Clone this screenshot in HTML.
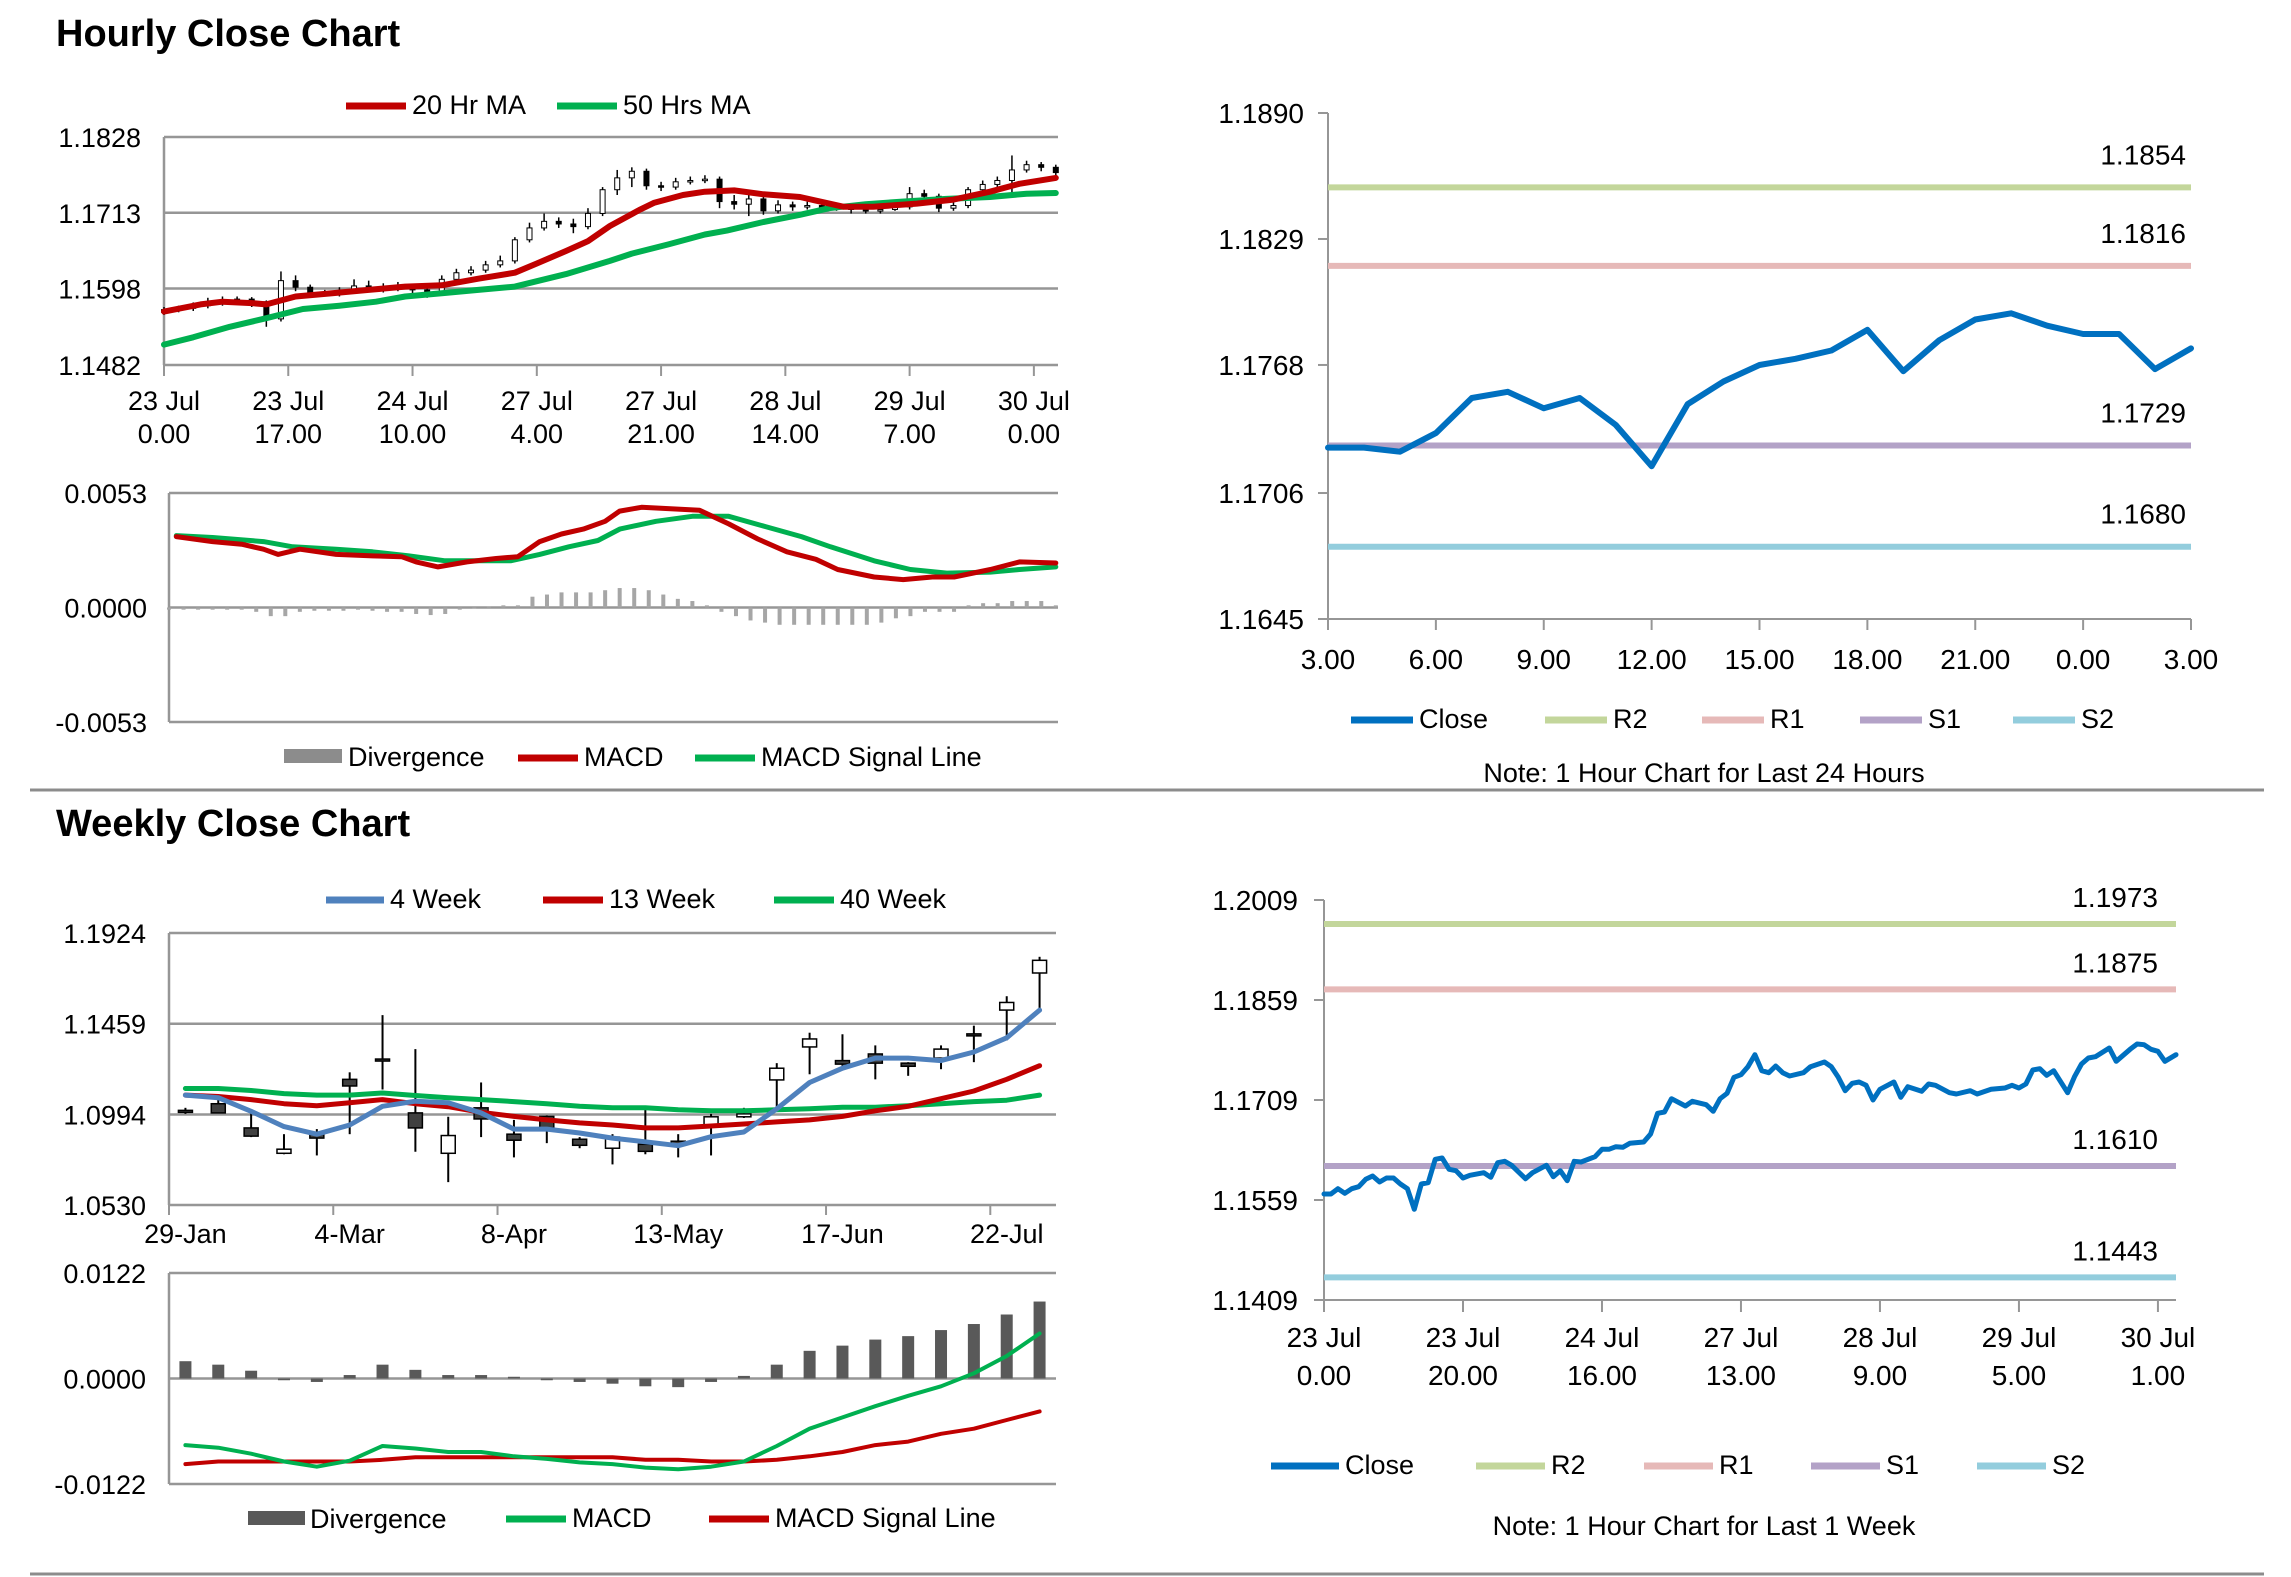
<!DOCTYPE html>
<html><head><meta charset="utf-8"><style>
html,body{margin:0;padding:0;background:#fff;}
svg{display:block;font-family:"Liberation Sans",Arial,sans-serif;}
</style></head><body>
<svg id="chart" width="2291" height="1577" viewBox="0 0 2291 1577" xmlns="http://www.w3.org/2000/svg">
<text x="56" y="46" font-size="38" font-weight="bold" fill="#000">Hourly Close Chart</text>
<text x="56" y="836" font-size="38" font-weight="bold" fill="#000">Weekly Close Chart</text>
<line x1="30" y1="790" x2="2264" y2="790" stroke="#8c8c8c" stroke-width="3"/>
<line x1="30" y1="1574" x2="2264" y2="1574" stroke="#8c8c8c" stroke-width="3"/>
</svg>
<script>
// ---- Hourly candles (2-hour sampling) ----
const hHours = [0,2,4,6,8,10,12,14,16,18,20,22,24,26,28,30,32,34,36,38,40,42,44,46,48,50,52,54,56,58,60,62,64,66,68,70,72,74,76,78,80,82,84,86,88,90,92,94,96,98,100,102,104,106,108,110,112,114,116,118,120,122];
const hOpen = [1.1562,1.1566,1.1568,1.1572,1.1576,1.1580,1.1582,1.1578,1.1552,1.1610,1.1600,1.1592,1.1590,1.1594,1.1602,1.1600,1.1598,1.1600,1.1596,1.1592,1.1612,1.1622,1.1626,1.1634,1.1640,1.1672,1.1690,1.1700,1.1696,1.1692,1.1712,1.1748,1.1766,1.1776,1.1754,1.1752,1.1760,1.1762,1.1764,1.1730,1.1726,1.1734,1.1716,1.1725,1.1722,1.1724,1.1720,1.1722,1.1718,1.1716,1.1718,1.1722,1.1742,1.1738,1.1720,1.1724,1.1748,1.1756,1.1762,1.1778,1.1786,1.1782];
const hClose = [1.1566,1.1568,1.1572,1.1576,1.1580,1.1582,1.1578,1.1552,1.1610,1.1600,1.1592,1.1590,1.1594,1.1602,1.1600,1.1598,1.1600,1.1596,1.1592,1.1612,1.1622,1.1626,1.1634,1.1640,1.1672,1.1690,1.1700,1.1696,1.1692,1.1712,1.1748,1.1766,1.1776,1.1754,1.1752,1.1760,1.1762,1.1764,1.1730,1.1726,1.1734,1.1716,1.1725,1.1722,1.1724,1.1720,1.1722,1.1718,1.1716,1.1718,1.1722,1.1742,1.1738,1.1720,1.1724,1.1748,1.1756,1.1762,1.1778,1.1786,1.1782,1.1774];
const hHigh = [1.1570,1.1572,1.1577,1.1584,1.1586,1.1586,1.1585,1.1580,1.1624,1.1618,1.1604,1.1596,1.1600,1.1612,1.1610,1.1606,1.1608,1.1604,1.1600,1.1618,1.1628,1.1632,1.1640,1.1648,1.1676,1.1698,1.1712,1.1706,1.1704,1.1720,1.1752,1.1778,1.1782,1.1780,1.1760,1.1766,1.1768,1.1770,1.1768,1.1740,1.1742,1.1738,1.1732,1.1730,1.1730,1.1728,1.1728,1.1726,1.1722,1.1724,1.1728,1.1752,1.1748,1.1742,1.1730,1.1752,1.1762,1.1768,1.1800,1.1792,1.1790,1.1786];
const hLow = [1.1558,1.1562,1.1564,1.1568,1.1572,1.1576,1.1570,1.1540,1.1548,1.1594,1.1586,1.1586,1.1586,1.1590,1.1596,1.1592,1.1594,1.1586,1.1584,1.1590,1.1608,1.1618,1.1622,1.1630,1.1636,1.1668,1.1686,1.1690,1.1682,1.1688,1.1708,1.1740,1.1752,1.1748,1.1746,1.1748,1.1756,1.1758,1.1720,1.1718,1.1708,1.1710,1.1712,1.1716,1.1718,1.1714,1.1716,1.1712,1.1712,1.1712,1.1716,1.1718,1.1730,1.1714,1.1716,1.1720,1.1744,1.1750,1.1740,1.1774,1.1776,1.1768];
const ma20Hours = [0,5,8,12,14,18,23,28,33,38,43,48,51,55,58,61,65,67,71,74,78,82,87,89,93,97,103,108,113,117,122];
const ma20Vals = [1.1563,1.1574,1.1578,1.1576,1.1574,1.1586,1.1591,1.1596,1.1601,1.1603,1.1613,1.1622,1.1636,1.1655,1.1670,1.1693,1.1717,1.1728,1.1740,1.1745,1.1747,1.1741,1.1737,1.1732,1.1722,1.1722,1.1727,1.1733,1.1745,1.1757,1.1766];
const ma50Hours = [0,4,9,14,19,24,29,33,38,43,48,55,61,64,69,74,77,82,87,91,96,101,107,113,118,122];
const ma50Vals = [1.1513,1.1524,1.1540,1.1553,1.1567,1.1572,1.1578,1.1586,1.1591,1.1596,1.1601,1.1620,1.1640,1.1651,1.1665,1.1680,1.1686,1.1699,1.1710,1.1720,1.1726,1.1730,1.1734,1.1737,1.1742,1.1743];
const hTickHours = [0,17,34,51,68,85,102,119];
const hTickDays = ["23 Jul","23 Jul","24 Jul","27 Jul","27 Jul","28 Jul","29 Jul","30 Jul"];
const hTickTimes = ["0.00","17.00","10.00","4.00","21.00","14.00","7.00","0.00"];
const hPriceTicks = [1.1482,1.1598,1.1713,1.1828];
// hourly MACD
const hMacdHours = [1,6,10,13,15,18,23,28,32,34,37,41,45,48,51,54,57,60,62,65,69,73,77,81,85,89,92,97,101,105,108,113,117,122];
const hMacdVals = [0.00328,0.00305,0.00293,0.00270,0.00246,0.00270,0.00246,0.00239,0.00235,0.00211,0.00188,0.00211,0.00227,0.00235,0.00305,0.00340,0.00363,0.00399,0.00446,0.00464,0.00457,0.00450,0.00387,0.00317,0.00258,0.00223,0.00176,0.00141,0.00129,0.00141,0.00141,0.00176,0.00211,0.00206];
const hSigHours = [1,6,13,17,23,28,33,38,47,51,55,59,62,67,72,77,82,87,91,97,102,107,113,117,122];
const hSigVals = [0.00333,0.00324,0.00305,0.00281,0.00270,0.00258,0.00239,0.00216,0.00216,0.00246,0.00281,0.00310,0.00363,0.00399,0.00422,0.00422,0.00375,0.00328,0.00281,0.00216,0.00176,0.00159,0.00164,0.00176,0.00188];
const hDivVals = [-0.0001,-0.0001,-0.0001,-0.0001,-0.0001,-0.0001,-0.0002,-0.0004,-0.0004,-0.0002,-0.00015,-0.00015,-0.00015,-0.0001,-0.00015,-0.0002,-0.0002,-0.0003,-0.00035,-0.0003,-0.0001,0.0000,0.00005,0.0001,0.0001,0.0005,0.0006,0.0007,0.0007,0.0007,0.0008,0.0009,0.0009,0.0008,0.0006,0.0004,0.0003,0.0001,-0.0002,-0.0004,-0.0006,-0.0007,-0.0008,-0.0008,-0.0008,-0.0008,-0.0008,-0.0008,-0.0008,-0.0007,-0.0005,-0.0004,-0.0002,-0.0002,-0.0002,0.0001,0.0002,0.0002,0.0003,0.0003,0.0003,0.0001];
const hMacdTicks = [-0.0053,0.0000,0.0053];
// 24h chart
const dHours = [0,1,2,3,4,5,6,7,8,9,10,11,12,13,14,15,16,17,18,19,20,21,22,23,24];
const dClose = [1.1728,1.1728,1.1726,1.1735,1.1752,1.1755,1.1747,1.1752,1.1739,1.1719,1.1749,1.1760,1.1768,1.1771,1.1775,1.1785,1.1765,1.1780,1.1790,1.1793,1.1787,1.1783,1.1783,1.1766,1.1776];
const dTickLabels = ["3.00","6.00","9.00","12.00","15.00","18.00","21.00","0.00","3.00"];
const dPriceTicks = [1.1645,1.1706,1.1768,1.1829,1.1890];
const dLevelNames = ["R2","R1","S1","S2"];
const dLevels = [1.1854,1.1816,1.1729,1.1680];
// weekly candles
const wLabels = ["29-Jan","4-Mar","8-Apr","13-May","17-Jun","22-Jul"];
const wOpen = [1.1015,1.1049,1.0925,1.0795,1.0899,1.1174,1.1278,1.1002,1.0795,1.1028,1.0893,1.0984,1.0867,1.0821,1.0841,1.0857,1.0940,1.0982,1.1171,1.1340,1.1270,1.1304,1.1257,1.1283,1.1407,1.1529,1.1719];
const wClose = [1.1012,1.1002,1.0883,1.0816,1.0873,1.1140,1.1275,1.0925,1.0886,1.0971,1.0862,1.0925,1.0836,1.0878,1.0805,1.0841,1.0982,1.0997,1.1231,1.1381,1.1252,1.1257,1.1241,1.1329,1.1397,1.1568,1.1784];
const wHigh = [1.1028,1.1096,1.1015,1.0893,1.0919,1.1210,1.1503,1.1329,1.0982,1.1158,1.0966,1.0989,1.0878,1.0893,1.1018,1.0893,1.0997,1.1028,1.1257,1.1413,1.1405,1.1348,1.1262,1.1348,1.1449,1.1600,1.1802];
const wLow = [1.0997,1.1002,1.0878,1.0790,1.0784,1.0893,1.1122,1.0803,1.0647,1.0878,1.0774,1.0847,1.0821,1.0738,1.0790,1.0774,1.0784,1.0976,1.1010,1.1200,1.1226,1.1174,1.1192,1.1226,1.1262,1.1374,1.1529];
const w4 = [1.1093,1.1080,1.1010,1.0932,1.0893,1.0940,1.1036,1.1062,1.1054,1.1002,1.0919,1.0919,1.0899,1.0873,1.0854,1.0834,1.0880,1.0904,1.1023,1.1158,1.1231,1.1283,1.1283,1.1270,1.1314,1.1387,1.1529];
const w13 = [1.1093,1.1086,1.1070,1.1049,1.1039,1.1054,1.1070,1.1049,1.1034,1.1005,1.0984,1.0966,1.0951,1.0940,1.0925,1.0925,1.0935,1.0945,1.0956,1.0966,1.0984,1.1013,1.1036,1.1075,1.1114,1.1174,1.1244];
const w40 = [1.1127,1.1127,1.1117,1.1101,1.1093,1.1093,1.1104,1.1091,1.1080,1.1070,1.1060,1.1049,1.1036,1.1028,1.1028,1.1018,1.1013,1.1013,1.1018,1.1023,1.1031,1.1031,1.1039,1.1049,1.1060,1.1067,1.1093];
const wPriceTicks = [1.0530,1.0994,1.1459,1.1924];
const wDiv = [0.0020,0.0016,0.0009,-0.0002,-0.0004,0.0004,0.0016,0.0010,0.0004,0.0004,0.0002,-0.0002,-0.0004,-0.0006,-0.0009,-0.0010,-0.0004,0.0003,0.0016,0.0032,0.0038,0.0045,0.0049,0.0056,0.0063,0.0074,0.0089];
const wMacd = [-0.0077,-0.0080,-0.0087,-0.0096,-0.0102,-0.0095,-0.0078,-0.0081,-0.0085,-0.0085,-0.0090,-0.0093,-0.0097,-0.0099,-0.0103,-0.0105,-0.0102,-0.0096,-0.0078,-0.0058,-0.0045,-0.0032,-0.0020,-0.0009,0.0006,0.0026,0.0052];
const wSignal = [-0.0099,-0.0096,-0.0096,-0.0096,-0.0096,-0.0096,-0.0094,-0.0091,-0.0091,-0.0091,-0.0091,-0.0091,-0.0091,-0.0091,-0.0094,-0.0094,-0.0096,-0.0096,-0.0094,-0.0090,-0.0085,-0.0077,-0.0073,-0.0064,-0.0058,-0.0048,-0.0038];
const wMacdTicks = [-0.0122,0.0000,0.0122];
// 1-week hourly chart
const kHours = [0,1,2,3,4,5,6,7,8,9,10,11,12,13,14,15,16,17,18,19,20,21,23,24,25,26,27,29,30,32,33,34,35,36,37,39,40,41,42,43,44,46,47,48,49,50,52,53,55,56,57,58,59,60,61,62,63,64,65,66,67,69,70,72,73,74,75,76,77,78,79,80,82,83,84,86,87,88,90,91,93,94,96,98,99,100,101,102,103,104,105,107,108,109,110,111,113,114,116,117,118,119,120,121,122.6];
const kClose = [1.1568,1.1568,1.1576,1.1569,1.1576,1.1579,1.1590,1.1595,1.1586,1.1592,1.1592,1.1583,1.1576,1.1545,1.1583,1.1585,1.1620,1.1622,1.1605,1.1603,1.1592,1.1596,1.1600,1.1593,1.1615,1.1617,1.1611,1.1591,1.1600,1.1611,1.1594,1.1603,1.1588,1.1617,1.1616,1.1624,1.1635,1.1635,1.1639,1.1638,1.1644,1.1646,1.1658,1.1689,1.1691,1.1711,1.1700,1.1707,1.1702,1.1692,1.1711,1.1719,1.1743,1.1747,1.1759,1.1777,1.1753,1.1750,1.1760,1.1750,1.1745,1.1750,1.1759,1.1766,1.1759,1.1743,1.1723,1.1734,1.1736,1.1731,1.1709,1.1725,1.1736,1.1713,1.1729,1.1722,1.1733,1.1731,1.1720,1.1718,1.1723,1.1718,1.1725,1.1727,1.1731,1.1727,1.1733,1.1754,1.1756,1.1746,1.1753,1.1720,1.1744,1.1763,1.1772,1.1774,1.1787,1.1767,1.1785,1.1793,1.1792,1.1785,1.1782,1.1767,1.1777];
const kTickHours = [0,20,40,60,80,100,120];
const kTickDays = ["23 Jul","23 Jul","24 Jul","27 Jul","28 Jul","29 Jul","30 Jul"];
const kTickTimes = ["0.00","20.00","16.00","13.00","9.00","5.00","1.00"];
const kPriceTicks = [1.1409,1.1559,1.1709,1.1859,1.2009];
const kLevels = [1.1973,1.1875,1.1610,1.1443];

const NS = "http://www.w3.org/2000/svg";
const svg = document.getElementById('chart');
function mk(tag, attrs, name, parent) {
  const el = document.createElementNS(NS, tag);
  for (const k in attrs) el.setAttribute(k, attrs[k]);
  
  
  (parent || svg).appendChild(el);
  return el;
}
function txt(x, y, s, size, anchor, name) {
  const t = mk('text', {x: x, y: y, 'font-size': size, 'text-anchor': anchor || 'start', fill: '#000'}, name);
  t.textContent = s;
  return t;
}
function lin(d0, d1, r0, r1) { return v => r0 + (v - d0) * (r1 - r0) / (d1 - d0); }
function poly(xs, ys, xf, yf, color, w, name) {
  const pts = xs.map((x, i) => xf(x).toFixed(1) + ',' + yf(ys[i]).toFixed(1)).join(' ');
  return mk('polyline', {points: pts, fill: 'none', stroke: color, 'stroke-width': w, 'stroke-linejoin': 'round', 'stroke-linecap': 'round'}, name);
}
function hline(x1, x2, y, color, w, name) { return mk('line', {x1: x1, x2: x2, y1: y, y2: y, stroke: color, 'stroke-width': w}, name); }
function vline(x, y1, y2, color, w, name) { return mk('line', {x1: x, x2: x, y1: y1, y2: y2, stroke: color, 'stroke-width': w}, name); }
function legLine(x1, x2, y, color, label, name) {
  hline(x1, x2, y, color, 7, name + '-swatch');
  txt(x2 + 6, y + 8, label, 27, 'start', name + '-label');
}
const RED = '#C00000', GREEN = '#00B050', GRID = '#969696';

// ===== Panel 1: hourly candles =====
const x1 = lin(0, 122.3, 164, 1058);
const y1 = lin(1.1482, 1.1828, 365, 137);
hPriceTicks.forEach((v, i) => {
  hline(164, 1058, y1(v), GRID, 2.5, 'hourly-gridline');
  txt(141, y1(v) + 10, v.toFixed(4), 27, 'end', 'hourly-y-tick-label');
});
vline(164, 137, 365, GRID, 2.5, 'hourly-y-axis');
hTickHours.forEach((h, i) => {
  vline(x1(h), 365, 376, GRID, 2, 'hourly-x-tick');
  txt(x1(h), 410, hTickDays[i], 27, 'middle', 'hourly-x-tick-day');
  txt(x1(h), 443, hTickTimes[i], 27, 'middle', 'hourly-x-tick-time');
});
hHours.forEach((h, i) => {
  const cx = x1(h);
  vline(cx, y1(hHigh[i]), y1(hLow[i]), '#000', 1.5, 'hourly-candle-wick');
  const top = y1(Math.max(hOpen[i], hClose[i])), bot = y1(Math.min(hOpen[i], hClose[i]));
  mk('rect', {x: cx - 2.5, y: top, width: 5, height: Math.max(1.5, bot - top), fill: hClose[i] >= hOpen[i] ? '#fff' : '#000', stroke: '#000', 'stroke-width': 1}, 'hourly-candle-body');
});
poly(ma50Hours, ma50Vals, x1, y1, GREEN, 6, 'ma-50-line');
poly(ma20Hours, ma20Vals, x1, y1, RED, 6, 'ma-20-line');
legLine(346, 406, 106, RED, '20 Hr MA', 'legend-20hr-ma');
legLine(557, 617, 106, GREEN, '50 Hrs MA', 'legend-50hrs-ma');

// ===== Panel 1b: hourly MACD =====
const x1m = lin(0, 122.3, 169, 1058);
const y1m = lin(-0.0053, 0.0053, 722, 493);
hMacdTicks.forEach(v => {
  hline(169, 1058, y1m(v), GRID, 2.5, 'hourly-macd-gridline');
  txt(147, y1m(v) + 10, v.toFixed(4), 27, 'end', 'hourly-macd-y-tick-label');
});
vline(169, 493, 722, GRID, 2.5, 'hourly-macd-y-axis');
hHours.forEach((h, i) => {
  const a = y1m(0), b = y1m(hDivVals[i]);
  mk('rect', {x: x1m(h) - 2, y: Math.min(a, b), width: 4, height: Math.max(1, Math.abs(b - a)), fill: '#a6a6a6'}, 'hourly-divergence-bar');
});
poly(hSigHours, hSigVals, x1m, y1m, GREEN, 5, 'hourly-macd-signal-line');
poly(hMacdHours, hMacdVals, x1m, y1m, RED, 5, 'hourly-macd-line');
mk('rect', {x: 284, y: 749, width: 58, height: 14, fill: '#8c8c8c'}, 'legend-divergence-swatch');
txt(348, 766, 'Divergence', 27, 'start', 'legend-divergence-label');
legLine(518, 578, 758, RED, 'MACD', 'legend-hourly-macd');
legLine(695, 755, 758, GREEN, 'MACD Signal Line', 'legend-hourly-signal');

// ===== Panel 2: 24h close =====
const x2 = lin(0, 24, 1328, 2191);
const y2 = lin(1.1645, 1.1890, 619, 113);
const levelColors = ['#C3D69B', '#E6B9B8', '#B3A2C7', '#93CDDD'];
vline(1328, 113, 619, GRID, 2, 'intraday-y-axis');
hline(1328, 2191, 619, GRID, 2, 'intraday-x-axis');
dPriceTicks.forEach(v => {
  hline(1318, 1328, y2(v), GRID, 2, 'intraday-y-tick');
  txt(1304, y2(v) + 10, v.toFixed(4), 28, 'end', 'intraday-y-tick-label');
});
dTickLabels.forEach((s, i) => {
  vline(x2(i * 3), 619, 630, GRID, 2, 'intraday-x-tick');
  txt(x2(i * 3), 669, s, 28, 'middle', 'intraday-x-tick-label');
});
dLevels.forEach((v, i) => {
  hline(1328, 2191, y2(v), levelColors[i], 6, 'intraday-level-' + dLevelNames[i].toLowerCase());
});
poly(dHours, dClose, x2, y2, '#0070C0', 6, 'intraday-close-line');
dLevels.forEach((v, i) => {
  txt(2186, y2(v) - 23, v.toFixed(4), 28, 'end', 'intraday-level-label');
});
legLine(1351, 1413, 720, '#0070C0', 'Close', 'legend-intraday-close');
legLine(1545, 1607, 720, levelColors[0], 'R2', 'legend-intraday-r2');
legLine(1702, 1764, 720, levelColors[1], 'R1', 'legend-intraday-r1');
legLine(1860, 1922, 720, levelColors[2], 'S1', 'legend-intraday-s1');
legLine(2013, 2075, 720, levelColors[3], 'S2', 'legend-intraday-s2');
txt(1704, 782, 'Note: 1 Hour Chart for Last 24 Hours', 27, 'middle', 'intraday-note');

// ===== Panel 3: weekly candles =====
const n = wOpen.length;
const bw = (1056 - 169) / n;
const x3 = i => 169 + bw * (i + 0.5);
const y3 = lin(1.0530, 1.1924, 1205, 933);
wPriceTicks.forEach(v => {
  hline(169, 1056, y3(v), GRID, 2.5, 'weekly-gridline');
  txt(146, y3(v) + 10, v.toFixed(4), 27, 'end', 'weekly-y-tick-label');
});
vline(169, 933, 1205, GRID, 2.5, 'weekly-y-axis');
wLabels.forEach((s, k) => {
  vline(169 + bw * k * 5, 1205, 1215, GRID, 2, 'weekly-x-tick');
  txt(x3(k * 5), 1243, s, 27, 'middle', 'weekly-x-tick-label');
});
for (let i = 0; i < n; i++) {
  vline(x3(i), y3(wHigh[i]), y3(wLow[i]), '#000', 2, 'weekly-candle-wick');
  const top = y3(Math.max(wOpen[i], wClose[i])), bot = y3(Math.min(wOpen[i], wClose[i]));
  mk('rect', {x: x3(i) - 7, y: top, width: 14, height: Math.max(2, bot - top), fill: wClose[i] >= wOpen[i] ? '#fff' : '#404040', stroke: '#000', 'stroke-width': 1.5}, 'weekly-candle-body');
}
const idx = wOpen.map((_, i) => i);
poly(idx, w40, x3, y3, GREEN, 5, 'ma-40-week-line');
poly(idx, w13, x3, y3, RED, 5, 'ma-13-week-line');
poly(idx, w4, x3, y3, '#4F81BD', 5, 'ma-4-week-line');
legLine(326, 384, 900, '#4F81BD', '4 Week', 'legend-4-week');
legLine(543, 603, 900, RED, '13 Week', 'legend-13-week');
legLine(774, 834, 900, GREEN, '40 Week', 'legend-40-week');

// ===== Panel 3b: weekly MACD =====
const y3m = lin(-0.0122, 0.0122, 1484, 1273);
wMacdTicks.forEach(v => {
  hline(169, 1056, y3m(v), GRID, 2.5, 'weekly-macd-gridline');
  txt(146, y3m(v) + 10, v.toFixed(4), 27, 'end', 'weekly-macd-y-tick-label');
});
vline(169, 1273, 1484, GRID, 2.5, 'weekly-macd-y-axis');
wDiv.forEach((v, i) => {
  const a = y3m(0), b = y3m(v);
  mk('rect', {x: x3(i) - 6, y: Math.min(a, b), width: 12, height: Math.max(1, Math.abs(b - a)), fill: '#595959'}, 'weekly-divergence-bar');
});
poly(idx, wSignal, x3, y3m, RED, 4, 'weekly-macd-signal-line');
poly(idx, wMacd, x3, y3m, GREEN, 4, 'weekly-macd-line');
mk('rect', {x: 248, y: 1511, width: 57, height: 14, fill: '#595959'}, 'legend-weekly-divergence-swatch');
txt(310, 1528, 'Divergence', 27, 'start', 'legend-weekly-divergence-label');
legLine(506, 566, 1519, GREEN, 'MACD', 'legend-weekly-macd');
legLine(709, 769, 1519, RED, 'MACD Signal Line', 'legend-weekly-signal');

// ===== Panel 4: 1-week hourly close =====
const x4 = lin(0, 122.6, 1324, 2176);
const y4 = lin(1.1409, 1.2009, 1300, 900);
vline(1324, 900, 1300, GRID, 2, 'weekly-hourly-y-axis');
hline(1324, 2176, 1300, GRID, 2, 'weekly-hourly-x-axis');
kPriceTicks.forEach(v => {
  hline(1314, 1324, y4(v), GRID, 2, 'weekly-hourly-y-tick');
  txt(1298, y4(v) + 10, v.toFixed(4), 28, 'end', 'weekly-hourly-y-tick-label');
});
kTickHours.forEach((h, i) => {
  vline(x4(h), 1300, 1312, GRID, 2, 'weekly-hourly-x-tick');
  txt(x4(h), 1347, kTickDays[i], 28, 'middle', 'weekly-hourly-x-tick-day');
  txt(x4(h), 1385, kTickTimes[i], 28, 'middle', 'weekly-hourly-x-tick-time');
});
kLevels.forEach((v, i) => {
  hline(1324, 2176, y4(v), levelColors[i], 6, 'weekly-level-' + dLevelNames[i].toLowerCase());
});
poly(kHours, kClose, x4, y4, '#0070C0', 5, 'weekly-hourly-close-line');
kLevels.forEach((v, i) => {
  txt(2158, y4(v) - 17, v.toFixed(4), 28, 'end', 'weekly-level-label');
});
legLine(1271, 1339, 1466, '#0070C0', 'Close', 'legend-weekly-close');
legLine(1476, 1545, 1466, levelColors[0], 'R2', 'legend-weekly-r2');
legLine(1644, 1713, 1466, levelColors[1], 'R1', 'legend-weekly-r1');
legLine(1811, 1880, 1466, levelColors[2], 'S1', 'legend-weekly-s1');
legLine(1977, 2046, 1466, levelColors[3], 'S2', 'legend-weekly-s2');
txt(1704, 1535, 'Note: 1 Hour Chart for Last 1 Week', 27, 'middle', 'weekly-note');
</script>
</body></html>
